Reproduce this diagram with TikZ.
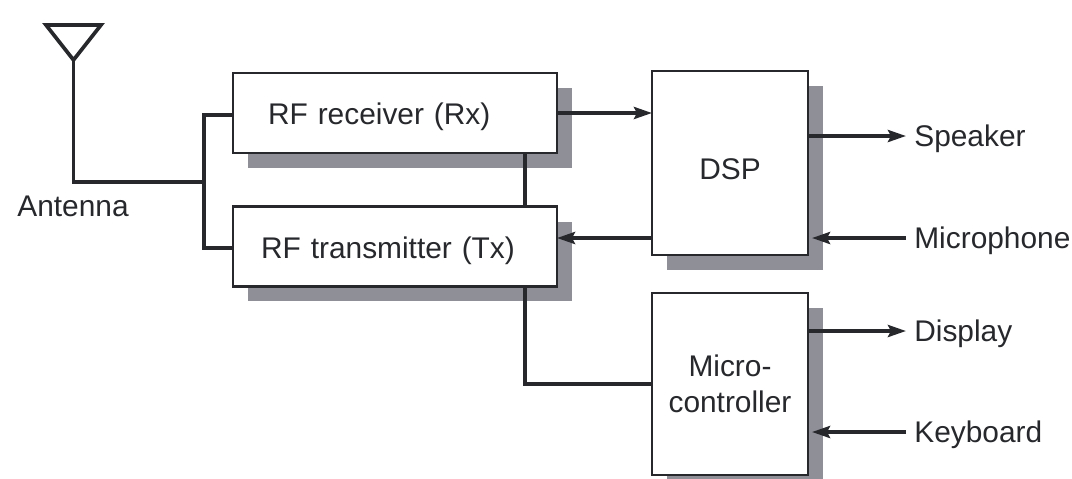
\documentclass[tikz,border=0pt]{standalone}
\usepackage{fontspec}
\setmainfont{Liberation Sans}
\usepackage{xcolor}
\usepackage{tikz}
\usetikzlibrary{arrows.meta,shadows}
\definecolor{inkdark}{HTML}{26282C}
\definecolor{shadegray}{HTML}{8F8F98}
\tikzset{
	block/.style={draw=inkdark,line width=1.3pt,fill=white,text=inkdark,outer sep=0pt,font=\fontsize{17}{20.4}\selectfont,
		drop shadow={shadow xshift=0.3cm,shadow yshift=-0.3cm,fill=shadegray,opacity=1}},
	rfblock/.style={block,minimum height=1.6cm,align=left,text height=17.4pt,text depth=3.8pt},
	ioname/.style={anchor=west,inner xsep=0.16cm,inner ysep=0pt,text=inkdark,text height=16pt,text depth=3.8pt,font=\fontsize{17}{20.4}\selectfont},
	wire/.style={draw=inkdark,line width=2.1pt},
	sig/.style={wire,-{Stealth[length=0.36cm,width=0.24cm,inset=0.06cm]}}
}
\begin{document}
\begin{tikzpicture}[x=0.02cm,y=-0.02cm]
		\useasboundingbox (0,0) rectangle (1072,478);
		\node[rfblock,inner xsep=0.7cm,text width=5.08cm] (rx) at (395,113) {RF receiver (Rx)};
		\node[rfblock,inner xsep=0.56cm,text width=5.36cm] (tx) at (395,246.5) {RF transmitter (Tx)};
		\node[block,minimum width=3.12cm,minimum height=3.68cm,text height=19pt] (dsp) at (730,163) {DSP};
		\node[block,minimum width=3.12cm,minimum height=3.64cm,align=center] (mcu) at (730,384) {Micro-\\controller};
		\node[ioname] (speaker) at (906,136) {Speaker};
		\node[ioname] (microphone) at (906,238) {Microphone};
		\node[ioname] (display) at (906,331) {Display};
		\node[ioname] (keyboard) at (906,432) {Keyboard};
		\node[anchor=center,inner sep=0pt,text=inkdark,font=\fontsize{17}{20.4}\selectfont] (antenna) at (73,206) {Antenna};
		\coordinate (tip) at (73.5,60);
		\coordinate (bus) at (204,182);
		\coordinate (rxin) at (233,115);
		\coordinate (txin) at (233,248);
		\coordinate (dspout) at (652,238);
		\coordinate (rflink) at (525,153);
		\draw[wire,line join=miter] (46,25) -- (101,25) -- (tip) -- cycle;
		\draw[wire] (tip) |- (bus);
		\draw[wire] (rxin) -| (bus) |- (txin);
		\draw[wire] (rflink) -- (rflink |- tx.north);
		\draw[wire] (rflink |- tx.south) |- (mcu.west);
		\draw[sig] (rx.east) -- (rx.east -| dsp.west);
		\draw[sig] (dspout) -- (dspout -| tx.east);
		\draw[sig] (dsp.east |- speaker.west) -- (speaker.west);
		\draw[sig,shorten >=0.08cm] (microphone.west) -- (dsp.east |- microphone.west);
		\draw[sig] (mcu.east |- display.west) -- (display.west);
		\draw[sig,shorten >=0.08cm] (keyboard.west) -- (mcu.east |- keyboard.west);
	\end{tikzpicture}
\end{document}
